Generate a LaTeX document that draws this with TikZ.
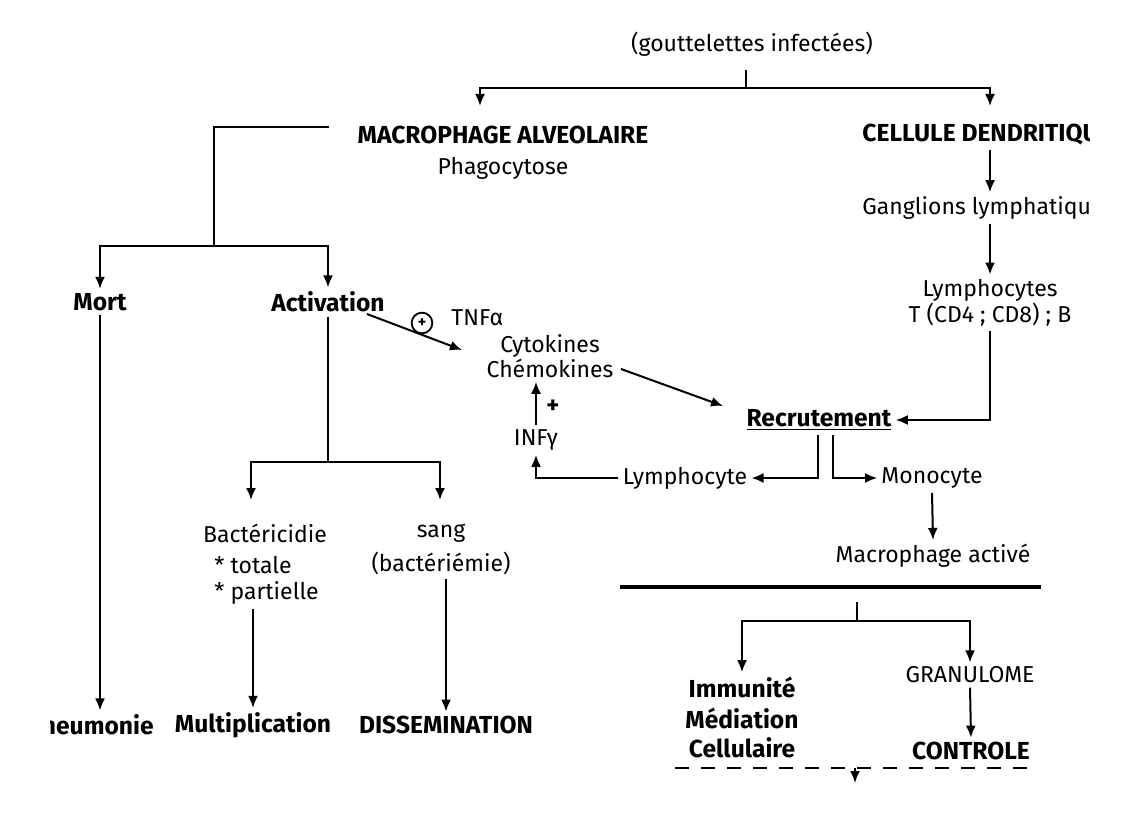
\documentclass[tikz,border=0pt]{standalone}
\usepackage{fontspec}
\setmainfont{Fira Sans}
\usetikzlibrary{arrows.meta}
\tikzset{
  lbl/.style={inner sep=2pt, font=\fontsize{11.5}{13}\selectfont},
  hd/.style={inner sep=2pt, font=\fontsize{12.3}{14}\selectfont\bfseries},
  flow/.style={-{Latex[length=6pt,width=5pt]}, line width=1pt},
  rule/.style={line width=1pt}
}
\begin{document}
\begin{tikzpicture}[x=0.5pt,y=-0.5pt]
  \useasboundingbox (0,0) rectangle (1127,828);
  \begin{scope}
  \clip (50,0) rectangle (1089,828);
    \node (GT) at (752,44) [lbl] {(gouttelettes infectées)};
    \node (MA) at (503,135) [hd] {MACROPHAGE ALVEOLAIRE};
    \node (PH) at (503,168) [lbl] {Phagocytose};
    \node (CD) at (858,135) [hd,anchor=west] {CELLULE DENDRITIQUE};
    \node (GL) at (858,208) [lbl,anchor=west] {Ganglions lymphatiques};
    \node (LY) at (990,290) [lbl] {Lymphocytes};
    \node (TB) at (990,315) [lbl] {T (CD4 ; CD8) ; B};
    \node (MO) at (100,302) [hd] {Mort};
    \node (AC) at (328,302) [hd] {Activation};
    \node (PL) at (422,323) [circle,draw,line width=0.9pt,inner sep=1.5pt,font=\fontsize{8}{8}\selectfont\bfseries] {+};
    \node (TN) at (447,318) [lbl,anchor=west] {TNFα};
    \node (CY) at (550,346) [lbl] {Cytokines};
    \node (CH) at (550,368) [lbl] {Chémokines};
    \node (IN) at (536,440) [lbl] {INFγ};
    \node (PS) at (553,407) [hd] {+};
    \node (RE) at (819,420) [hd] {\underline{Recrutement}};
    \node (LC) at (685,478) [lbl] {Lymphocyte};
    \node (MN) at (932,478) [lbl] {Monocyte};
    \node (MX) at (933,556) [lbl] {Macrophage activé};
    \node (BA) at (265,533) [lbl] {Bactéricidie};
    \node (TO) at (210,565) [lbl,anchor=west] {* totale};
    \node (PA) at (210,593) [lbl,anchor=west] {* partielle};
    \node (SA) at (441,533) [lbl] {sang};
    \node (BM) at (441,563) [lbl] {(bactériémie)};
    \node (PN) at (158,725) [hd,anchor=east] {Pneumonie};
    \node (MU) at (253,725) [hd] {Multiplication};
    \node (DI) at (446,725) [hd] {DISSEMINATION};
    \node (IM) at (742,687) [hd] {Immunité};
    \node (MD) at (742,718) [hd] {Médiation};
    \node (CE) at (742,748) [hd] {Cellulaire};
    \node (GR) at (970,675) [lbl] {GRANULOME};
    \node (CO) at (971,751) [hd] {CONTROLE};
    \coordinate (T0) at (746,70);
    \coordinate (J0) at (746,88);
    \coordinate (A1) at (480,106);
    \coordinate (A2) at (990,106);
    \coordinate (M0) at (329,127);
    \coordinate (J1) at (214,246);
    \coordinate (J2) at (328,462);
    \coordinate (B1) at (251,500);
    \coordinate (B2) at (440,500);
    \coordinate (C0) at (367,314);
    \coordinate (C1) at (462,350);
    \coordinate (R0) at (621,369);
    \coordinate (R1) at (723,406);
    \coordinate (H1) at (620,587);
    \coordinate (H2) at (1041,587);
    \coordinate (K0) at (857,602);
    \coordinate (K1) at (857,621);
    \coordinate (D1) at (675,768);
    \coordinate (D2) at (1037,768);
    \coordinate (D3) at (855,768);
    \coordinate (D4) at (855,783);
  \end{scope}
  \draw[rule] (T0) -- (J0);
  \draw[flow] (J0) -| (A1);
  \draw[flow] (J0) -| (A2);
  \draw[rule] (M0) -| (J1);
  \draw[flow] (J1) -| (MO.north);
  \draw[flow] (J1) -| (AC.north);
  \draw[flow] (MO.south) -- (MO.south |- PN.north);
  \draw[rule] (AC.south) -- (J2);
  \draw[flow] (J2) -| (B1);
  \draw[flow] (J2) -| (B2);
  \draw[flow] (MU |- PA.south) -- (MU.north);
  \draw[flow] (DI |- BM.south) -- (DI.north);
  \draw[flow] (C0) -- (C1);
  \draw[flow] (R0) -- (R1);
  \draw[flow] (IN.north) -- (IN.north |- CH.south);
  \draw[flow] (LC.west) -| (IN.south);
  \draw[flow] ([xshift=-0.5]RE.south) |- (LC.east);
  \draw[flow] ([xshift=7]RE.south) |- (MN.west);
  \draw[flow] (MN.south) -- (MX.north);
  \draw[flow] (LY |- CD.south) -- (LY |- GL.north);
  \draw[flow] (LY |- GL.south) -- (LY.north);
  \draw[flow] (TB.south) |- (RE.east);
  \draw[line width=2pt] (H1) -- (H2);
  \draw[rule] (K0) -- (K1);
  \draw[flow] (K1) -| (IM.north);
  \draw[flow] (K1) -| (GR.north);
  \draw[flow] (GR.south) -- (CO.north);
  \draw[rule,dash pattern=on 7pt off 6pt] (D1) -- (D2);
  \draw[flow] (D3) -- (D4);
\end{tikzpicture}
\end{document}
